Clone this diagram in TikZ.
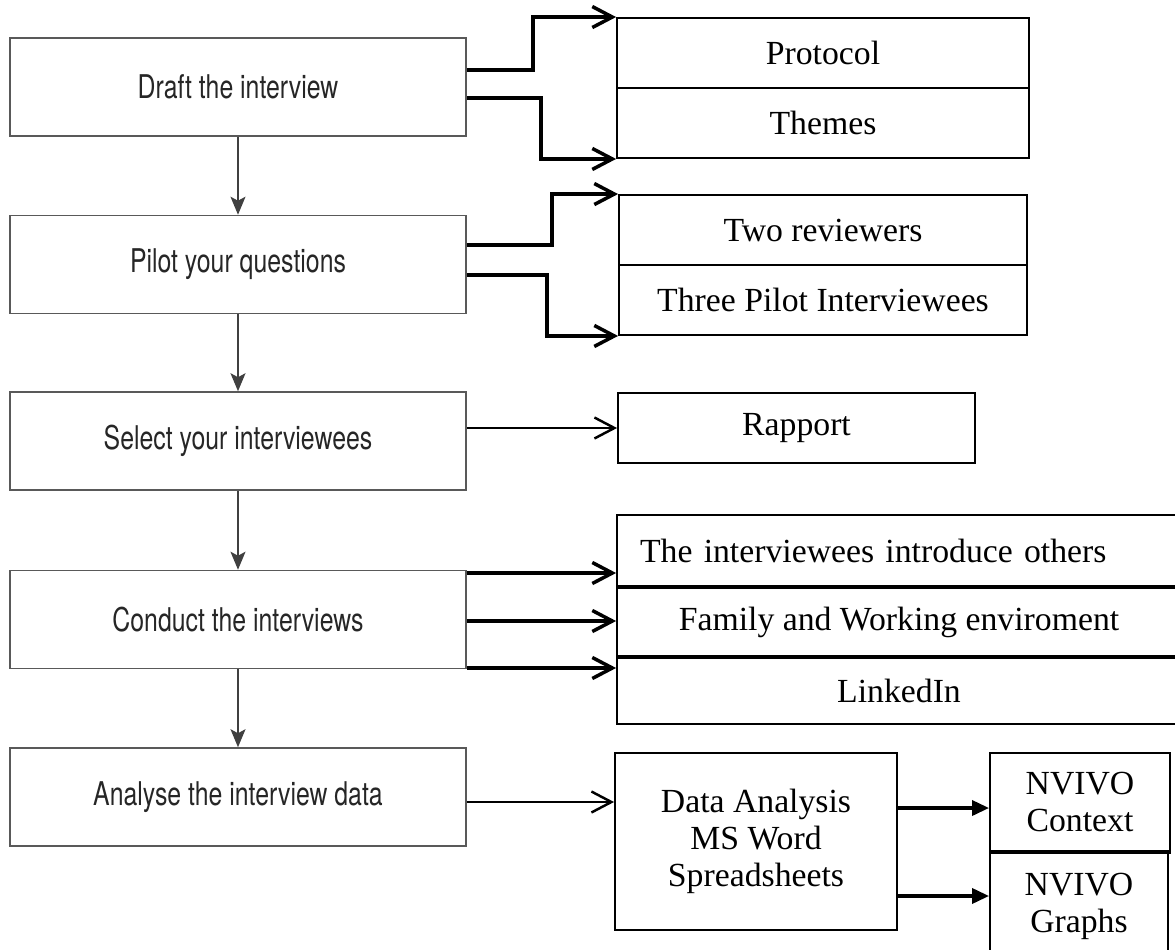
\documentclass[tikz,border=0pt]{standalone}
\usepackage{fontspec}
\setmainfont{Liberation Serif}
\newfontfamily\stagefont[FakeStretch=0.76]{TeX Gyre Heros}
\usetikzlibrary{arrows.meta}
\newcommand{\boxline}{1.1pt}
\newcommand{\linkline}{2pt}
\newcommand{\sepline}{2.6pt}

\begin{document}
\begin{tikzpicture}[x=0.02cm, y=-0.02cm,
    stage/.style={draw=black!65, line width=0.9pt, minimum width=9.12cm, minimum height=1.96cm,
        font=\stagefont\fontsize{18.6}{22}\selectfont, text=black!85},
    item/.style={draw, line width=\boxline, minimum height=1.4cm, inner sep=0pt,
        font=\fontsize{19.2}{21}\selectfont},
    down/.style={draw=black!75, line width=0.9pt, -{Stealth[length=3.6mm, width=3mm, inset=0.8mm]}},
    link/.style={line width=\linkline, -{Straight Barb[length=4mm, width=4.2mm]}},
    single/.style={line width=1.4pt, -{Straight Barb[length=4mm, width=4.2mm]}},
    tri/.style={line width=\linkline, -{Triangle[length=3.4mm, width=3mm]}}]

    \useasboundingbox (0,0) rectangle (1175,949);

    %Left column
    \node[stage] (draft) at (238,87) {Draft the interview};
    \node[stage] (pilot) at (238,264.5) {Pilot your questions};
    \node[stage] (select) at (238,441) {Select your interviewees};
    \node[stage] (conduct) at (238,619.5) {Conduct the interviews};
    \node[stage] (analyse) at (238,797) {Analyse the interview data};

    \foreach \a/\b in {draft/pilot,pilot/select,select/conduct,conduct/analyse} {
        \draw[down] (\a) -- (\b);
    }

    %Draft
    \node[item, minimum width=8.24cm] (protocol) at (823,53) {Protocol};
    \node[item, minimum width=8.24cm] (themes) at (823,123) {Themes};
    \draw[link] ([yshift=0.34cm]draft.east) -- ++(66,0) |- (protocol.north west);
    \draw[link] ([yshift=-0.22cm]draft.east) -- ++(74,0) |- (themes.south west);

    %Pilot
    \node[item, minimum width=8.16cm] (reviewers) at (823,230) {Two reviewers};
    \node[item, minimum width=8.16cm] (pilotees) at (823,300) {Three Pilot Interviewees};
    \draw[link] ([yshift=0.39cm]pilot.east) -- ++(85,0) |- (reviewers.north west);
    \draw[link] ([yshift=-0.21cm]pilot.east) -- ++(80,0) |- (pilotees.south west);

    %Select
    \node[item, minimum width=7.14cm] (rapport) at (796.5,428) {Rapport};
    \draw[single] (select.east |- rapport.west) -- (rapport.west);

    %Conduct
    \node[item, minimum width=11.28cm, minimum height=1.42cm, text width=10.36cm, inner xsep=0.46cm,
        align=left] (intro) at (899,550.5) {The interviewees introduce others};
    \node[item, minimum width=11.28cm, minimum height=1.44cm] (family) at (899,622) {Family and Working enviroment};
    \node[item, minimum width=11.28cm, minimum height=1.32cm] (linkedin) at (899,691) {LinkedIn};
    \draw[line width=\sepline] (intro.south west) -- (intro.south east);
    \draw[line width=\sepline] (linkedin.north west) -- (linkedin.north east);

    \coordinate (c1) at ([yshift=0.93cm]conduct.east);
    \coordinate (c2) at ([yshift=-0.03cm]conduct.east);
    \coordinate (c3) at ([yshift=-0.97cm]conduct.east);
    \foreach \c in {c1,c2,c3} {
        \draw[link] (\c) -- (\c -| intro.west);
    }

    %Analyse
    \node[item, minimum width=5.64cm, minimum height=3.54cm, align=center] (dataan) at (756,841.5)
        {Data Analysis\\MS Word\\Spreadsheets};
    \coordinate (a1) at ([yshift=-0.1cm]analyse.east);
    \draw[single] (a1) -- (a1 -| dataan.west);

    \node[item, minimum width=3.6cm, minimum height=1.96cm, align=center] (nvctx) at (1080,802) {NVIVO\\Context};
    \node[item, minimum width=3.56cm, minimum height=2.14cm, align=center] (nvgraph) at (1079,906.5) {NVIVO\\Graphs};
    \draw[line width=\sepline] (nvctx.south west) -- (nvctx.south east);

    \coordinate (n1) at ([yshift=0.67cm]dataan.east);
    \coordinate (n2) at ([yshift=-1.09cm]dataan.east);
    \draw[tri] (n1) -- (n1 -| nvctx.west);
    \draw[tri] (n2) -- (n2 -| nvgraph.west);
\end{tikzpicture}
\end{document}
